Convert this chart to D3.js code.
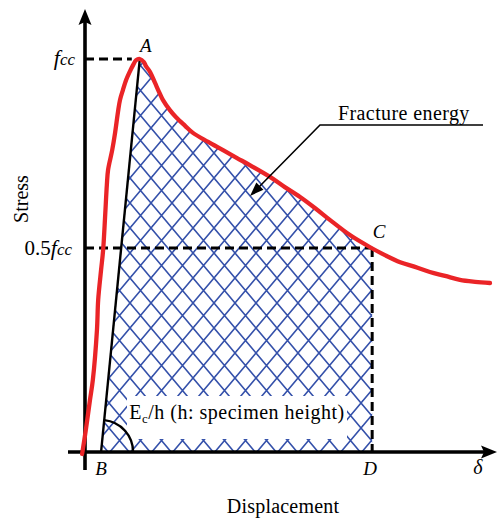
<!DOCTYPE html>
<html lang="en">
<head>
<meta charset="UTF-8">
<title>Fracture energy</title>
<script src="https://d3js.org/d3.v7.min.js"></script>
<style>
    body { margin: 0; padding: 0; background: #fff; overflow: hidden; }
    svg { display: block; }
    .lbl { font-family: "Liberation Serif", "Times New Roman", serif; fill: #000; }
    .it { font-style: italic; }
</style>
</head>
<body>
<script>
    // stress-displacement curve (displacement in arbitrary units, stress / fcc)
    const curveX = [-0.7, 0.2, 1.2, 1.9, 2.9, 3.2, 3.9, 4.4, 4.9, 5.3, 5.6, 6.6, 7.3, 8.0, 8.5, 9.2, 10.0, 10.7, 11.7, 12.4,
        13.3, 14.3, 14.8, 15.8, 17.0, 18.2, 18.9, 20.6, 22.1, 24.3, 26.2, 29.9, 33.5, 36.9, 40.0, 44.9, 48.5, 52.2,
        55.8, 59.5, 64.3, 69.2, 72.8, 76.5, 80.1, 83.7, 87.4, 91.0, 94.7, 98.3];
    const curveY = [-0.005, 0.056, 0.132, 0.183, 0.310, 0.387, 0.463, 0.514, 0.603, 0.679, 0.718, 0.768, 0.812, 0.865, 0.896, 0.921, 0.947, 0.964, 0.985, 0.997,
        1.0, 0.992, 0.982, 0.967, 0.939, 0.911, 0.896, 0.870, 0.852, 0.830, 0.812, 0.789, 0.768, 0.748, 0.730, 0.700, 0.674, 0.649,
        0.621, 0.590, 0.552, 0.521, 0.501, 0.483, 0.471, 0.458, 0.448, 0.438, 0.433, 0.430];

    // key points
    const pointNames = ["A", "B", "C", "D"];
    const pointX = [13.3, 3.9, 69.7, 69.7];
    const pointY = [1.0, 0, 0.519, 0];
    const halfLevel = 0.519;   // 0.5 fcc line

    const W = 498, H = 518;
    const svg = d3.select("body").append("svg").attr("width", W).attr("height", H);

    const x = d3.scaleLinear().domain([0, 100]).range([85, 497]);
    const y = d3.scaleLinear().domain([0, 1]).range([452, 59]);

    const pts = curveX.map((v, i) => [v, curveY[i]]);
    const A = [pointX[0], pointY[0]], B = [pointX[1], pointY[1]], C = [pointX[2], pointY[2]], D = [pointX[3], pointY[3]];

    // hatch pattern (diamond cross-hatch)
    const pw = 21, ph = 25;
    const defs = svg.append("defs");
    const pat = defs.append("pattern").attr("id", "hatch")
        .attr("patternUnits", "userSpaceOnUse")
        .attr("width", pw).attr("height", ph)
        .attr("x", 4).attr("y", 3);
    pat.append("path")
        .attr("d", `M0,0L${pw},${ph}M${pw},0L0,${ph}` +
            `M-2,-2.4L2,2.4M${pw - 2},-2.4L${pw + 2},2.4M${pw - 2},${ph + 2.4}L${pw + 2},${ph - 2.4}M-2,${ph + 2.4}L2,${ph - 2.4}`)
        .attr("stroke", "#3551aa").attr("stroke-width", 1.6).attr("fill", "none");

    // hatched area: B -> A -> along curve -> C -> D
    const upper = pts.filter(p => p[0] > A[0] && p[0] < C[0]);
    const poly = [B, A, ...upper, C, D];
    svg.append("path")
        .attr("d", d3.line().x(p => x(p[0])).y(p => y(p[1]))(poly) + "Z")
        .attr("fill", "url(#hatch)");

    // white box behind the modulus label
    svg.append("rect").attr("x", 127).attr("y", 396).attr("width", 220).attr("height", 43).attr("fill", "#fff");

    // dashed guides
    function dline(x1, y1, x2, y2) {
        svg.append("line").attr("x1", x1).attr("y1", y1).attr("x2", x2).attr("y2", y2)
            .attr("stroke", "#000").attr("stroke-width", 3).attr("stroke-dasharray", "9,5");
    }
    dline(x(0), y(1), x(A[0]) - 8, y(1));
    dline(x(0), y(halfLevel), x(C[0]), y(halfLevel));
    dline(x(C[0]), y(halfLevel), x(D[0]), y(0));

    // secant line B-A
    svg.append("line")
        .attr("x1", x(B[0])).attr("y1", y(B[1])).attr("x2", x(A[0])).attr("y2", y(A[1]))
        .attr("stroke", "#000").attr("stroke-width", 2.4);

    // angle arc at B
    const bx = x(B[0]), by = y(0), r = 32;
    const ang = Math.atan2(y(A[1]) - by, x(A[0]) - bx);
    svg.append("path")
        .attr("d", `M${bx + r * Math.cos(ang)},${by + r * Math.sin(ang)} A${r},${r} 0 0 1 ${bx + r},${by}`)
        .attr("fill", "none").attr("stroke", "#000").attr("stroke-width", 2.4);

    // axes
    svg.append("line").attr("x1", 85).attr("y1", 470).attr("x2", 85).attr("y2", 20)
        .attr("stroke", "#000").attr("stroke-width", 3.6);
    svg.append("line").attr("x1", 68).attr("y1", 452).attr("x2", 485).attr("y2", 452)
        .attr("stroke", "#000").attr("stroke-width", 3.6);
    svg.append("path").attr("d", "M85,9L91.5,25L85,22L78.5,25Z").attr("fill", "#000");
    svg.append("path").attr("d", "M497,452L481,458.5L484,452L481,445.5Z").attr("fill", "#000");

    // stress-displacement curve
    svg.append("path")
        .attr("d", d3.line().x(p => x(p[0])).y(p => y(p[1])).curve(d3.curveCatmullRom)(pts))
        .attr("fill", "none").attr("stroke", "#ea2427").attr("stroke-width", 4.3)
        .attr("stroke-linejoin", "round").attr("stroke-linecap", "round");

    // point labels
    const labelOff = { A: [6, -7], B: [0, 23], C: [7, -10], D: [-2, 23] };
    pointNames.forEach((n, i) => {
        svg.append("text").attr("class", "lbl it")
            .attr("x", x(pointX[i]) + labelOff[n][0]).attr("y", y(pointY[i]) + labelOff[n][1])
            .attr("text-anchor", "middle").attr("font-size", 19).text(n);
    });
    svg.append("text").attr("class", "lbl it").attr("x", 478).attr("y", 474)
        .attr("text-anchor", "middle").attr("font-size", 20).text("δ");

    // y tick labels
    const fcc = svg.append("text").attr("class", "lbl").attr("x", 75).attr("y", y(1) + 6)
        .attr("text-anchor", "end").attr("font-size", 22);
    fcc.append("tspan").attr("font-style", "italic").text("f");
    fcc.append("tspan").attr("font-style", "italic").attr("font-size", 17).text("cc");
    const half = svg.append("text").attr("class", "lbl").attr("x", 72).attr("y", y(halfLevel) + 7)
        .attr("text-anchor", "end").attr("font-size", 21);
    half.append("tspan").text("0.5");
    half.append("tspan").attr("font-style", "italic").attr("font-size", 22).text("f");
    half.append("tspan").attr("font-style", "italic").attr("font-size", 17).text("cc");

    // axis titles
    svg.append("text").attr("class", "lbl").attr("x", 283).attr("y", 513)
        .attr("text-anchor", "middle").attr("font-size", 20).attr("letter-spacing", 0.2).text("Displacement");
    svg.append("text").attr("class", "lbl")
        .attr("transform", "translate(28,199) rotate(-90)")
        .attr("text-anchor", "middle").attr("font-size", 20).text("Stress");

    // modulus label
    const ec = svg.append("text").attr("class", "lbl").attr("x", 237).attr("y", 419)
        .attr("text-anchor", "middle").attr("font-size", 20).attr("letter-spacing", 0.5);
    ec.append("tspan").text("E");
    ec.append("tspan").attr("font-size", 13).attr("dy", 4).text("c");
    ec.append("tspan").attr("dy", -4).text("/h (h: specimen height)");

    // fracture energy callout
    svg.append("text").attr("class", "lbl").attr("x", 338).attr("y", 120)
        .attr("font-size", 20).attr("letter-spacing", 0.4).text("Fracture energy");
    svg.append("path").attr("d", "M483,125L320,125L258,188")
        .attr("fill", "none").attr("stroke", "#000").attr("stroke-width", 1.6);
    const ah = Math.atan2(195 - 125, 250 - 320);
    const tip = [250, 196], hl = 14, hw = 5;
    const back = [tip[0] - hl * Math.cos(ah), tip[1] - hl * Math.sin(ah)];
    svg.append("path")
        .attr("d", `M${tip}L${back[0] + hw * Math.sin(ah)},${back[1] - hw * Math.cos(ah)}L${back[0] - hw * Math.sin(ah)},${back[1] + hw * Math.cos(ah)}Z`)
        .attr("fill", "#000");
</script>
</body>
</html>
